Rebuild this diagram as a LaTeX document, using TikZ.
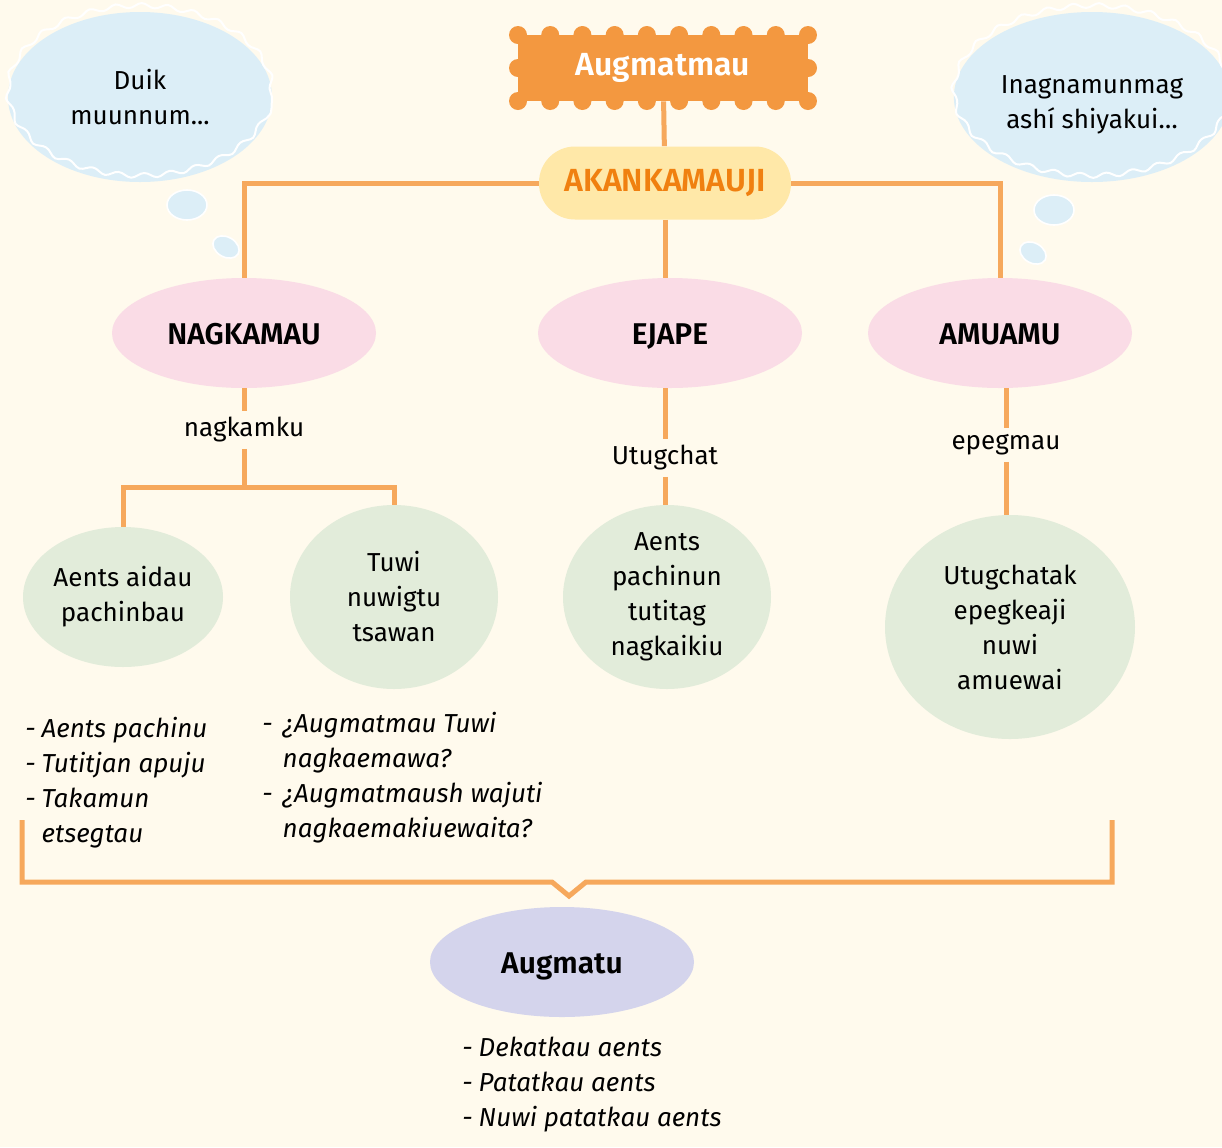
\documentclass[tikz,border=0pt]{standalone}
\usepackage{fontspec}
\setmainfont{Fira Sans}[BoldFont={* SemiBold}]
\usetikzlibrary{shapes.geometric,decorations.pathmorphing}
\definecolor{bgcol}{RGB}{255,250,237}
\definecolor{stampcol}{RGB}{243,152,64}
\definecolor{akancol}{RGB}{255,232,168}
\definecolor{akantext}{RGB}{240,128,16}
\definecolor{linkcol}{RGB}{246,168,92}
\definecolor{pinkcol}{RGB}{250,220,230}
\definecolor{greencol}{RGB}{226,236,218}
\definecolor{lavcol}{RGB}{212,212,236}
\definecolor{thoughtcol}{RGB}{220,238,247}
\newcommand\mapfont{\fontsize{13}{17.5}\selectfont}
\newcommand\headfont{\fontsize{15}{18}\selectfont\bfseries}
\tikzset{
	link/.style={draw=linkcol, line width=2.5pt},
	topic/.style={ellipse, fill=pinkcol, minimum width=132pt, minimum height=55pt, text height=11pt, text depth=0pt, font=\headfont},
	idea/.style={ellipse, fill=greencol, align=center, inner sep=-8pt, font=\mapfont},
	tag/.style={inner sep=3pt, font=\mapfont},
	notes/.style={anchor=north west, inner sep=0pt, font=\mapfont\itshape},
	thought/.style={ellipse, fill=thoughtcol, align=center, font=\mapfont,
		postaction={draw=white, line width=1pt, decorate, decoration={snake, segment length=13pt, amplitude=1.2pt}}},
	bubble/.style={fill=thoughtcol, draw=white, line width=0.8pt}
}
\begin{document}
\begin{tikzpicture}[x=0.5pt,y=-0.5pt]
	\useasboundingbox[fill=bgcol] (0,0) rectangle (1222,1147);
	% thoughts
	\node[thought, minimum width=132pt, minimum height=85pt] (thinkL) at (140,97) {Duik\\muunnum...};
	\draw[bubble] (187,205) ellipse [x radius=10pt, y radius=7.5pt];
	\draw[bubble, rotate around={-30:(226,247)}] (226,247) ellipse [x radius=7pt, y radius=5pt];
	\node[thought, minimum width=130pt, minimum height=85pt] (thinkR) at (1092,97)
		{\raisebox{0pt}[\dimexpr\height+7pt\relax][\depth]{\begin{tabular}{@{}c@{}}Inagnamunmag\\ashí shiyakui…\end{tabular}}};
	\draw[bubble] (1054,210) ellipse [x radius=10pt, y radius=7.5pt];
	\draw[bubble, rotate around={-30:(1033,253)}] (1033,253) ellipse [x radius=7pt, y radius=5pt];
	% links
	\node[fill=stampcol, minimum width=145pt, minimum height=33pt, text=white, font=\fontsize{16}{18}\selectfont\bfseries] (stamp) at (663,68) {Augmatmau};
	\foreach \i in {0,...,9} {
		\fill[stampcol] (518+\i*32.22,35) circle (4.5pt);
		\fill[stampcol] (518+\i*32.22,101) circle (4.5pt);
	}
	\fill[stampcol] (518,68) circle (4.5pt) (808,68) circle (4.5pt);
	\node[fill=akancol, rounded corners=18pt, minimum width=126pt, minimum height=36.5pt, text=akantext, font=\fontsize{16}{18}\selectfont\bfseries] (akan) at (665,183) {AKANKAMAUJI};
	\node[topic] (nag) at (244,333) {NAGKAMAU};
	\node[topic] (ejape) at (670,333) {EJAPE};
	\node[topic] (amu) at (1000,333) {AMUAMU};
	\draw[link] (stamp) -- (akan);
	\draw[link] (akan.west) -| (nag.north);
	\draw[link] (akan.east) -| (amu.north);
	\draw[link] (akan) -- (akan |- ejape.north);
	% nagkamau
	\node[tag] (lblN) at (244,430) {nagkamku};
	\coordinate (splitN) at (244,487);
	\node[idea, minimum width=100pt, minimum height=70pt] (g1) at (123,597) {Aents aidau\\pachinbau};
	\node[idea, minimum width=104pt, minimum height=92pt] (g2) at (394,597) {Tuwi\\nuwigtu\\tsawan};
	\draw[link] (nag) -- (lblN);
	\draw[link] (lblN) -- (splitN);
	\draw[link] (g1.north) |- (splitN) -| (g2.north);
	% ejape
	\node[tag] (lblE) at (665,458) {Utugchat};
	\node[idea, minimum width=104pt, minimum height=92pt] (g3) at (667,597) {Aents\\pachinun\\tutitag\\nagkaikiu};
	\draw[link] (ejape.south -| lblE) -- (lblE) -- (lblE |- g3.north);
	% amuamu
	\node[tag] (lblA) at (1006,445) {epegmau};
	\node[idea, minimum width=125pt, minimum height=112pt] (g4) at (1010,627) {Utugchatak\\epegkeaji\\nuwi\\amuewai};
	\draw[link] (amu.south -| lblA) -- (lblA) -- (lblA |- g4.north);
	% notes
	\node[notes] (noteL) at (25,713) {\begin{tabular}{@{}l@{\hspace{3pt}}l@{}}
		- & Aents pachinu\\ - & Tutitjan apuju\\ - & Takamun\\ & etsegtau\end{tabular}};
	\node[notes] (noteR) at (262,708) {\begin{tabular}{@{}l@{\hspace{5pt}}l@{}}
		- & ¿Augmatmau Tuwi\\ & nagkaemawa?\\ - & ¿Augmatmaush wajuti\\ & nagkaemakiuewaita?\end{tabular}};
	% result
	\coordinate (brL) at (22,820);
	\coordinate (brR) at (1112,820);
	\coordinate (vL) at (552,882);
	\coordinate (vR) at (586,882);
	\coordinate (vTip) at (569,896);
	\draw[link] (brL) |- (vL) -- (vTip) -- (vR) -| (brR);
	\node[topic, fill=lavcol] (aug) at (562,962) {Augmatu};
	\node[notes] (noteB) at (462,1032) {\begin{tabular}{@{}l@{\hspace{3pt}}l@{}}
		- & Dekatkau aents\\ - & Patatkau aents\\ - & Nuwi patatkau aents\end{tabular}};
\end{tikzpicture}
\end{document}
